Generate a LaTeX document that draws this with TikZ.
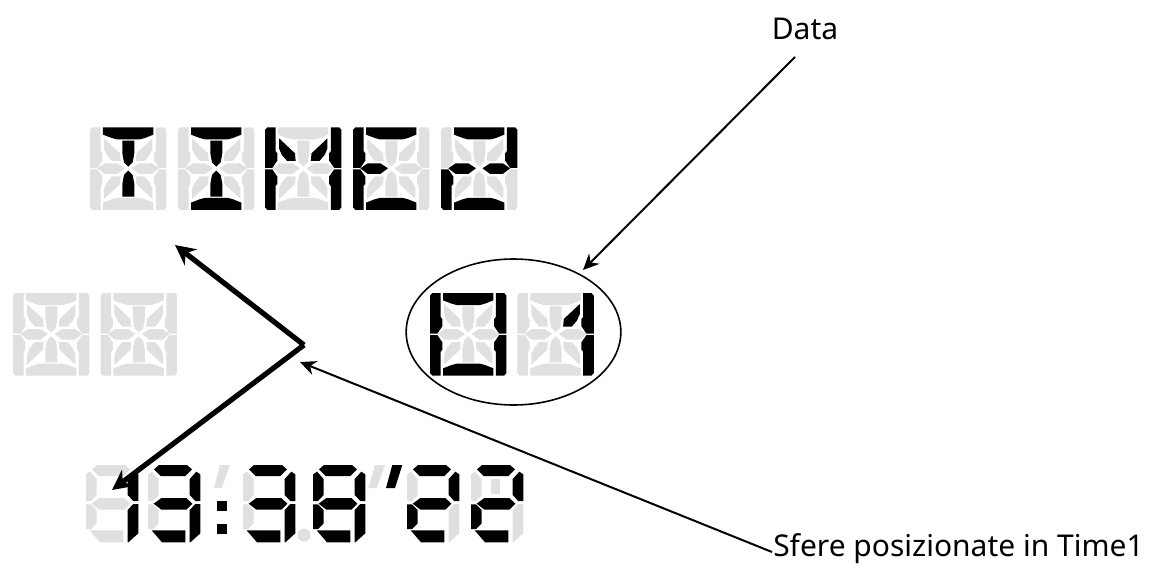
\documentclass[tikz,border=0pt]{standalone}
\usepackage{fontspec}
\setmainfont{Noto Sans}
\usetikzlibrary{arrows.meta,shapes.geometric}
\definecolor{offc}{HTML}{E0E0E0}
\tikzset{
  mx/.style={shift={(229.5,0)},xscale=-1},
  my/.style={shift={(0,248)},yscale=-1},
  label/.style={inner sep=0pt,font=\fontsize{22.5pt}{26pt}\selectfont},
  thinarrow/.style={line width=1.5pt,-{Stealth[length=12pt,width=11pt]}},
  thickarrow/.style={line width=3.9pt,-{Stealth[length=15pt,width=15pt]}},
}
\newcommand\sgT{(39,0)--(190,0)--(190,22)--(165,32)--(150,36)--(80,36)--(65,32)--(39,22)--cycle}
\newcommand\sgU{(0,8)--(7,0)--(32,0)--(32,72)--(37,78)--(37,100)--(22,122)--(0,122)--cycle}
\newcommand\sgC{(97,40)--(133,40)--(133,78)--(128,105)--(115,118)--(102,105)--(97,78)--cycle}
\newcommand\sgD{(42,33)--(90,78)--(92,101)--(66,101)--(50,82)--(42,63)--cycle}
\newcommand\sgM{(22,123)--(44,108)--(82,108)--(105,123)--(82,140)--(44,140)--cycle}
\newcommand\alnum[3]{%
 \begin{scope}[shift={(#1,#2)},scale=0.3333]
  \foreach \s in {t,b,ul,ur,ll,lr,cu,cd,dul,dur,dll,dlr,ml,mr}{\expandafter\gdef\csname cq\s\endcsname{offc}}
  \foreach \s in {#3}{\expandafter\gdef\csname cq\s\endcsname{black}}
  \fill[\cqt] \sgT; \fill[\cqb,my] \sgT;
  \fill[\cqul] \sgU; \fill[\cqur,mx] \sgU; \fill[\cqll,my] \sgU; \fill[\cqlr,mx,my] \sgU;
  \fill[\cqcu] \sgC; \fill[\cqcd,my] \sgC;
  \fill[\cqdul] \sgD; \fill[\cqdur,mx] \sgD; \fill[\cqdll,my] \sgD; \fill[\cqdlr,mx,my] \sgD;
  \fill[\cqml] \sgM; \fill[\cqmr,mx] \sgM;
 \end{scope}}
\newcommand\seven[3]{%
 \begin{scope}[shift={(#1,#2)},scale=0.3333]
  \foreach \s in {t,m,b,ul,ur,ll,lr}{\expandafter\gdef\csname cq\s\endcsname{offc}}
  \foreach \s in {#3}{\expandafter\gdef\csname cq\s\endcsname{black}}
  \fill[\cqt] (18,13)--(33,0)--(117,0)--(132,13)--(112,33)--(38,33)--cycle;
  \fill[\cqul] (32,42)--(32,90)--(15,108)--(0,108)--(0,28)--(12,20)--cycle;
  \fill[\cqur] (125,42)--(145,20)--(157,28)--(157,108)--(142,108)--(125,90)--cycle;
  \fill[\cqm] (17,116)--(40,99)--(115,99)--(133,116)--(115,134)--(40,134)--cycle;
  \fill[\cqll] (0,118)--(15,118)--(32,135)--(32,175)--(15,192)--(0,192)--cycle;
  \fill[\cqlr] (125,135)--(142,117)--(157,117)--(157,205)--(127,232)--(125,232)--cycle;
  \fill[\cqb] (11,196)--(112,196)--(112,232)--(42,232)--cycle;
 \end{scope}}
\begin{document}
\begin{tikzpicture}[x=0.75pt,y=-0.75pt]
\useasboundingbox (0,0) rectangle (1150,568);
\fill[white] (0,0) rectangle (1150,568);
% row 1
\alnum{90}{127.3}{t,cu,cd}
\alnum{178}{127.3}{t,b,cu,cd}
\alnum{265}{127.3}{ul,ll,ur,lr,dul,dur}
\alnum{353}{127.3}{t,b,ul,ll,ml}
\alnum{441}{127.3}{t,b,ur,ll,ml,mr}
% row 2
\alnum{13}{293}{}
\alnum{100.5}{293}{}
% data
\alnum{430}{293}{t,b,ul,ur,ll,lr}
\alnum{517.3}{293}{ur,lr,dur}
% clock
\seven{86}{465}{ur,lr}
\seven{148}{465}{t,m,b,ur,lr}
\seven{243}{465}{t,m,b,ur,lr}
\seven{313}{465}{t,m,b,ul,ur,ll,lr}
\seven{407}{465}{t,m,b,ur,ll}
\seven{471}{465}{t,m,b,ur,ll}
\fill[offc] (220,465)--(230,465)--(221.7,488)--(214,488)--cycle;
\fill[black] (216.7,500.7) rectangle (227.3,511);
\fill[black] (216.7,524) rectangle (227.3,534.3);
\fill[offc] (304,535) circle[radius=6.5];
\fill[offc] (375,465)--(385,465)--(376.7,488)--(368.3,488)--cycle;
\fill[black] (392.3,465)--(402.3,465)--(395,488)--(386,488)--cycle;
\fill[offc] (491,479) rectangle (500,494);
% labels and ellipse
\node[label,anchor=center] (data) at (805,29) {Data};
\node[label,anchor=west] (sfere) at (773,549) {Sfere posizionate in Time1};
\node[draw,ellipse,line width=1.2pt,minimum width=161pt,minimum height=109.5pt,inner sep=0pt] (oval) at (513.5,332) {};
\coordinate (dataroot) at (795,57);
\coordinate (ovaltip) at (583,270);
\coordinate (sfereroot) at (772,552);
\coordinate (bend) at (304,345);
\coordinate (bendtip) at (300,362);
\coordinate (uptip) at (175,245);
\coordinate (downtip) at (112,490);
\draw[thinarrow] (dataroot) -- (ovaltip);
\draw[thinarrow] (sfereroot) -- (bendtip);
\draw[thickarrow] (bend) -- (uptip);
\draw[thickarrow] (bend) -- (downtip);
\end{tikzpicture}
\end{document}
